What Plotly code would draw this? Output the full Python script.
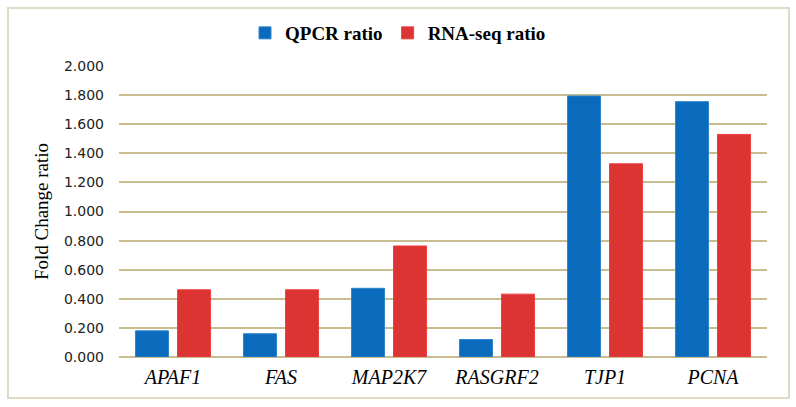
import plotly.graph_objects as go

genes = ["APAF1", "FAS", "MAP2K7", "RASGRF2", "TJP1", "PCNA"]
qpcr = [0.180, 0.160, 0.472, 0.120, 1.794, 1.755]
rnaseq = [0.462, 0.462, 0.763, 0.432, 1.328, 1.530]
yticks = [0, 0.2, 0.4, 0.6, 0.8, 1.0, 1.2, 1.4, 1.6, 1.8, 2.0]

L, R, T, B = 119, 29, 66, 50
W, H = 796, 407
pw, ph = W - L - R, H - T - B

def px_x(x):
    return (x - L) / pw

def px_y(y):
    return (H - B - y) / ph

fig = go.Figure()
fig.add_trace(go.Bar(x=genes, y=qpcr, name="QPCR ratio",
                     marker=dict(color="#0a6bbd", line=dict(color="#2f86cf", width=1))))
fig.add_trace(go.Bar(x=genes, y=rnaseq, name="RNA-seq ratio",
                     marker=dict(color="#dc3333", line=dict(color="#f04040", width=1))))

fig.update_layout(
    width=W, height=H,
    margin=dict(l=L, r=R, t=T, b=B),
    plot_bgcolor="white", paper_bgcolor="white",
    barmode="group", bargap=0.222, bargroupgap=0.214,
    legend=dict(orientation="h", x=px_x(398), xanchor="center",
                y=px_y(33), yanchor="middle",
                font=dict(family="Liberation Serif", size=19, color="black", weight="bold"),
                itemwidth=30, traceorder="normal"),
    shapes=[dict(type="rect", xref="paper", yref="paper",
                 x0=px_x(8), x1=px_x(789), y0=px_y(398), y1=px_y(8),
                 line=dict(color="#e0dbc4", width=2), layer="below")],
)
fig.update_yaxes(range=[0, 2.0], tickvals=yticks, tickformat=".3f",
                 showgrid=True, gridcolor="#c9bd8f", gridwidth=2,
                 zeroline=True, zerolinecolor="#c9bd8f", zerolinewidth=2,
                 showline=False, ticklabelstandoff=14,
                 tickfont=dict(family="DejaVu Sans", size=14, color="#222"),
                 title=dict(text="Fold Change ratio", standoff=10,
                            font=dict(family="Liberation Serif", size=19, color="black")))
fig.update_xaxes(showline=False, showgrid=False, ticks="",
                 tickfont=dict(family="Liberation Serif", size=20, color="black", style="italic"),
                 ticklabelstandoff=6)

fig.write_html("out.html")
